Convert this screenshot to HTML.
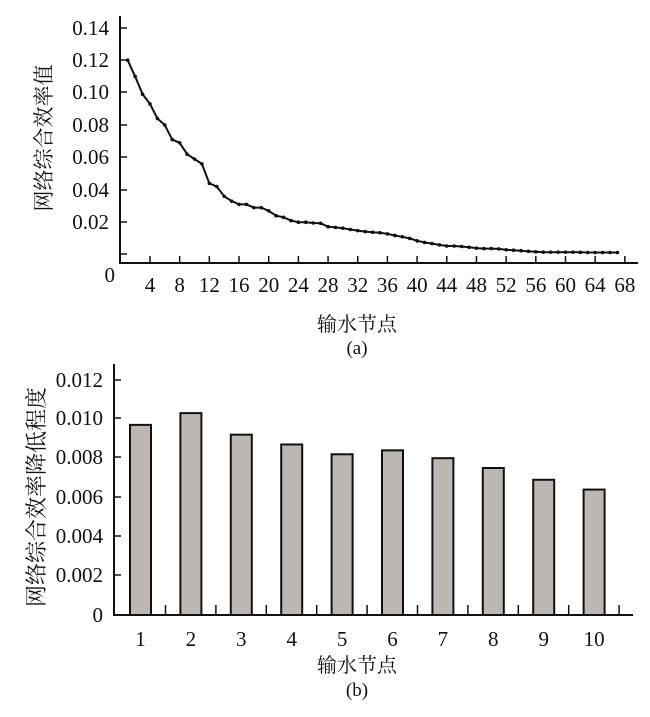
<!DOCTYPE html>
<html><head><meta charset="utf-8"><style>
html,body{margin:0;padding:0;background:#fff}
svg{display:block}
text{font-family:"Liberation Serif","Noto Serif CJK SC",serif;fill:#111}
.cn{font-family:"Liberation Serif","Noto Serif CJK SC",serif}
</style></head><body>
<svg width="650" height="717" viewBox="0 0 650 717" xmlns="http://www.w3.org/2000/svg">
<g stroke="#111" stroke-width="2" fill="none">
<line x1="120" y1="16" x2="120" y2="263"/>
<line x1="119" y1="263" x2="638" y2="263"/>
</g>
<g stroke="#111" stroke-width="1.5" id="yt1"></g>
<g font-size="21" text-anchor="end">
<text x="109" y="35">0.14</text><text x="109" y="67">0.12</text><text x="109" y="99">0.10</text>
<text x="109" y="132">0.08</text><text x="109" y="164">0.06</text><text x="109" y="197">0.04</text>
<text x="109" y="229">0.02</text><text x="115" y="282">0</text>
</g>
<text class="cn" font-size="21" transform="translate(51,138) rotate(-90)" text-anchor="middle">网络综合效率值</text>
<g id="xl1" font-size="21" text-anchor="middle"></g>
<polyline id="line1" fill="none" stroke="#111" stroke-width="2"/>
<g id="dots1" fill="#111"></g>
<text class="cn" x="357" y="331" font-size="20" text-anchor="middle">输水节点</text>
<text x="357" y="354" font-size="19" text-anchor="middle">(a)</text>

<g stroke="#111" stroke-width="2" fill="none">
<line x1="114" y1="364" x2="114" y2="615"/>
<line x1="113" y1="615" x2="633" y2="615"/>
</g>
<g id="yt2" stroke="#111" stroke-width="1.5"></g>
<g font-size="21" text-anchor="end">
<text x="103" y="387">0.012</text><text x="103" y="425">0.010</text><text x="103" y="464">0.008</text>
<text x="103" y="504">0.006</text><text x="103" y="543">0.004</text><text x="103" y="582">0.002</text>
<text x="103" y="622">0</text>
</g>
<text class="cn" font-size="22" transform="translate(44,497) rotate(-90)" text-anchor="middle">网络综合效率降低程度</text>
<g id="bars" fill="#bdb7b4" stroke="#111" stroke-width="2"></g>
<g id="xl2" font-size="21" text-anchor="middle"></g>
<text class="cn" x="357" y="672" font-size="20" text-anchor="middle">输水节点</text>
<text x="357" y="696" font-size="19" text-anchor="middle">(b)</text>
</svg>
<script>
var NS="http://www.w3.org/2000/svg";
function el(t,a,p,txt){var e=document.createElementNS(NS,t);for(var k in a)e.setAttribute(k,a[k]);if(txt)e.textContent=txt;document.getElementById(p).appendChild(e);}
[28,60,92,125,157,190,222,254].forEach(function(y){el("line",{x1:120,y1:y,x2:127,y2:y},"yt1");});
var X=function(i){return 120.3+i*7.42};
for(var i=4;i<=68;i+=4){el("line",{x1:X(i),y1:263,x2:X(i),y2:256,stroke:"#111","stroke-width":1.5},"yt1");el("text",{x:X(i),y:292},"xl1",""+i);}
var v=[.120,.110,.099,.093,.084,.080,.071,.069,.062,.059,.056,.044,.042,.036,.033,.031,.031,.029,.029,.027,.024,.023,.021,.020,.020,.0195,.0193,.0172,.0168,.0163,.0155,.0148,.0142,.0138,.0135,.0128,.0118,.011,.010,.0085,.0075,.0068,.006,.0053,.0053,.005,.0045,.004,.0037,.0037,.0035,.003,.0027,.0024,.002,.0017,.0015,.0015,.0015,.0015,.0015,.0014,.0013,.0013,.0013,.0013,.0013];
var pts=[];v.forEach(function(d,k){var x=X(k+1),y=254.6-d/0.02*32.4;pts.push(x.toFixed(1)+","+y.toFixed(1));el("circle",{cx:x,cy:y,r:1.8},"dots1");});
document.getElementById("line1").setAttribute("points",pts.join(" "));
[380,418,457,497,536,575].forEach(function(y){el("line",{x1:114,y1:y,x2:121,y2:y},"yt2");});
var b=[.0097,.0103,.0092,.0087,.0082,.0084,.0080,.0075,.0069,.0064];
b.forEach(function(d,k){var x=130+k*50.4,h=d/0.002*39.2;el("rect",{x:x,y:615-h,width:21,height:h},"bars");el("text",{x:x+10.5,y:646},"xl2",""+(k+1));el("line",{x1:x+35.5,y1:615,x2:x+35.5,y2:605,stroke:"#111","stroke-width":1.5},"yt2");});
</script>
</body></html>
